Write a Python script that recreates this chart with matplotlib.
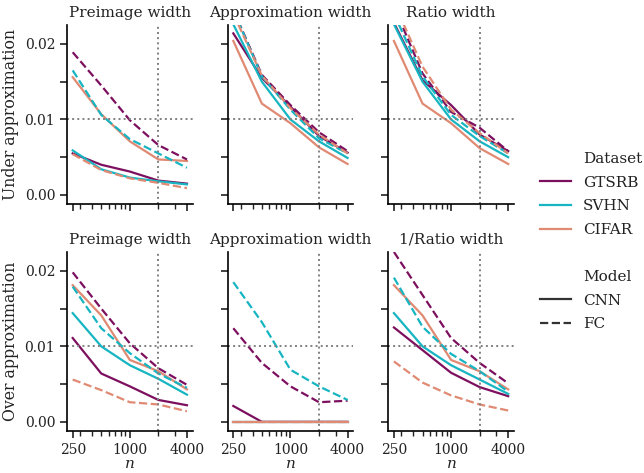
import numpy as np
import matplotlib.pyplot as plt
from matplotlib.lines import Line2D
from matplotlib.ticker import NullFormatter

# sample sizes
n_values = [250, 500, 1000, 2000, 4000]

datasets = ['GTSRB', 'SVHN', 'CIFAR']
models = ['CNN', 'FC']
colors = {'GTSRB': '#7d0f5f', 'SVHN': '#17b5c2', 'CIFAR': '#e08a73'}
styles = {'CNN': '-', 'FC': '--'}

# each panel : GTSRB CNN, SVHN CNN, CIFAR CNN, GTSRB FC, SVHN FC, CIFAR FC
under_preimage = [
    [0.0055, 0.0040, 0.0031, 0.0019, 0.0015],
    [0.0059, 0.0034, 0.0023, 0.0018, 0.0014],
    [0.0156, 0.0107, 0.0071, 0.0047, 0.0045],
    [0.0189, 0.0145, 0.0099, 0.0066, 0.0047],
    [0.0165, 0.0106, 0.0074, 0.0055, 0.0036],
    [0.0054, 0.0033, 0.0022, 0.0016, 0.0009],
]
under_approx = [
    [0.0214, 0.0155, 0.0117, 0.0078, 0.0056],
    [0.0226, 0.0150, 0.0100, 0.0071, 0.0049],
    [0.0204, 0.0121, 0.0095, 0.0063, 0.0041],
    [0.0245, 0.0159, 0.0119, 0.0083, 0.0058],
    [0.0245, 0.0157, 0.0113, 0.0075, 0.0055],
    [0.0240, 0.0158, 0.0115, 0.0080, 0.0055],
]
under_ratio = [
    [0.0228, 0.0152, 0.0119, 0.0080, 0.0058],
    [0.0226, 0.0150, 0.0100, 0.0071, 0.0050],
    [0.0204, 0.0121, 0.0095, 0.0062, 0.0041],
    [0.0250, 0.0161, 0.0110, 0.0089, 0.0058],
    [0.0240, 0.0157, 0.0106, 0.0078, 0.0055],
    [0.0255, 0.0170, 0.0113, 0.0082, 0.0055],
]
over_preimage = [
    [0.0111, 0.0064, 0.0047, 0.0029, 0.0022],
    [0.0144, 0.0100, 0.0075, 0.0057, 0.0036],
    [0.0181, 0.0141, 0.0082, 0.0067, 0.0043],
    [0.0198, 0.0150, 0.0104, 0.0071, 0.0049],
    [0.0179, 0.0124, 0.0091, 0.0064, 0.0045],
    [0.0056, 0.0042, 0.0026, 0.0023, 0.0014],
]
over_approx = [
    [0.0021, 0.0000, 0.0000, 0.0000, 0.0000],
    [0.0000, 0.0000, 0.0000, 0.0000, 0.0000],
    [0.0000, 0.0000, 0.0000, 0.0000, 0.0000],
    [0.0124, 0.0078, 0.0047, 0.0026, 0.0028],
    [0.0185, 0.0132, 0.0069, 0.0047, 0.0029],
    [0.0000, 0.0000, 0.0000, 0.0000, 0.0000],
]
over_inv_ratio = [
    [0.0125, 0.0095, 0.0065, 0.0046, 0.0034],
    [0.0144, 0.0100, 0.0075, 0.0056, 0.0037],
    [0.0181, 0.0141, 0.0082, 0.0067, 0.0043],
    [0.0225, 0.0168, 0.0111, 0.0078, 0.0051],
    [0.0191, 0.0126, 0.0090, 0.0067, 0.0040],
    [0.0080, 0.0052, 0.0035, 0.0023, 0.0015],
]

panels = [
    [under_preimage, under_approx, under_ratio],
    [over_preimage, over_approx, over_inv_ratio],
]
col_titles = [
    ['Preimage width', 'Approximation width', 'Ratio width'],
    ['Preimage width', 'Approximation width', '1/Ratio width'],
]
row_labels = ['Under approximation', 'Over approximation']


def main():
    plt.rcParams['font.family'] = 'DejaVu Serif'
    plt.rcParams['mathtext.fontset'] = 'dejavuserif'
    plt.rcParams['text.color'] = '#222222'
    plt.rcParams['axes.labelcolor'] = '#222222'
    plt.rcParams['xtick.color'] = '#222222'
    plt.rcParams['ytick.color'] = '#222222'

    fig, axes = plt.subplots(2, 3, figsize=(6.44, 4.73), dpi=100,
                             sharex=True, sharey=True)
    fig.subplots_adjust(left=0.104, right=0.798, top=0.947, bottom=0.089,
                        wspace=0.278, hspace=0.268)

    for r in range(2):
        for c in range(3):
            ax = axes[r, c]
            series = panels[r][c]
            k = 0
            for model in models:
                for ds in datasets:
                    ax.plot(n_values, series[k], color=colors[ds],
                            linestyle=styles[model], linewidth=1.6)
                    k += 1
            ax.axhline(0.01, color='gray', linestyle=':', linewidth=1.4)
            ax.axvline(2000, color='gray', linestyle=':', linewidth=1.4)
            ax.set_title(col_titles[r][c], fontsize=11)
            ax.spines['top'].set_visible(False)
            ax.spines['right'].set_visible(False)
            ax.spines['left'].set_linewidth(1.2)
            ax.spines['bottom'].set_linewidth(1.2)
            ax.tick_params(which='major', length=5, width=1.2, labelsize=10)
            ax.tick_params(which='minor', length=3.5, width=1.0)
            if c == 0:
                ax.set_ylabel(row_labels[r], fontsize=11.3)
            if r == 1:
                ax.set_xlabel('$n$', fontsize=11, labelpad=0)

    ax = axes[0, 0]
    ax.set_xscale('log')
    ax.set_xticks([250, 1000, 4000])
    ax.set_xticklabels(['250', '1000', '4000'])
    ax.xaxis.set_minor_formatter(NullFormatter())
    ax.set_yticks([0, 0.005, 0.01, 0.015, 0.02])
    ax.set_yticklabels(['0.00', '', '0.01', '', '0.02'])
    ax.set_ylim(-0.0012, 0.0225)

    # legend in seaborn style, with sub titles
    handles = [Line2D([], [], linestyle='', label='Dataset')]
    for ds in datasets:
        handles.append(Line2D([], [], color=colors[ds], linewidth=1.6, label=ds))
    handles.append(Line2D([], [], linestyle='', label=' '))
    handles.append(Line2D([], [], linestyle='', label='Model'))
    for model in models:
        handles.append(Line2D([], [], color='#333333', linestyle=styles[model],
                              linewidth=1.6, label=model))
    fig.legend(handles=handles, loc='center left', bbox_to_anchor=(0.829, 0.489),
               frameon=False, fontsize=11, borderaxespad=0, labelspacing=0.63)

    fig.savefig('out.png', dpi=100)


if __name__ == '__main__':
    main()
